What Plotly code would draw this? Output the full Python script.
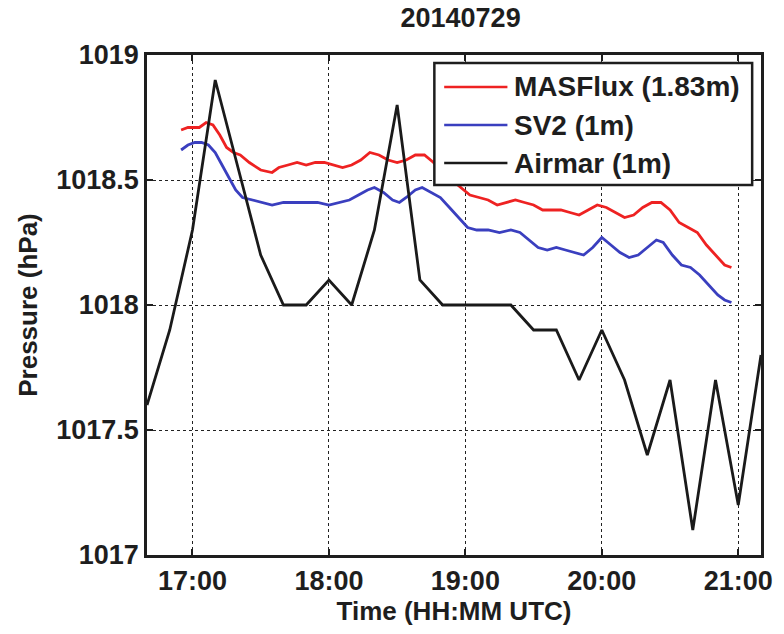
import plotly.graph_objects as go

DAY = "2014-07-29 "

# MASFlux (1.83m)
mas_time = ["16:55","16:58","17:00","17:03","17:06","17:09","17:12","17:15","17:18","17:21",
            "17:25","17:30","17:35","17:38","17:42","17:46","17:50","17:54","17:58","18:02",
            "18:06","18:10","18:14","18:18","18:22","18:26","18:30","18:34","18:38","18:42",
            "18:46","18:50","18:54","18:58","19:02","19:06","19:10","19:14","19:18","19:22",
            "19:26","19:30","19:34","19:38","19:42","19:46","19:50","19:54","19:58","20:02",
            "20:06","20:10","20:14","20:18","20:22","20:26","20:30","20:34","20:38","20:42",
            "20:46","20:50","20:54","20:57"]
mas_vals = [1018.70,1018.71,1018.71,1018.71,1018.73,1018.72,1018.68,1018.63,1018.61,1018.60,
            1018.57,1018.54,1018.53,1018.55,1018.56,1018.57,1018.56,1018.57,1018.57,1018.56,
            1018.55,1018.56,1018.58,1018.61,1018.60,1018.58,1018.57,1018.58,1018.60,1018.60,
            1018.57,1018.53,1018.50,1018.47,1018.44,1018.43,1018.42,1018.40,1018.41,1018.42,
            1018.41,1018.40,1018.38,1018.38,1018.38,1018.37,1018.36,1018.38,1018.40,1018.39,
            1018.37,1018.35,1018.36,1018.39,1018.41,1018.41,1018.38,1018.33,1018.31,1018.29,
            1018.24,1018.20,1018.16,1018.15]

# SV2 (1m)
sv2_time = ["16:55","16:58","17:01","17:04","17:07","17:10","17:13","17:16","17:19","17:22",
            "17:26","17:30","17:35","17:40","17:45","17:50","17:55","18:00","18:05","18:09",
            "18:13","18:17","18:20","18:24","18:28","18:31","18:34","18:38","18:41","18:45",
            "18:49","18:53","18:57","19:01","19:05","19:10","19:15","19:20","19:24","19:28",
            "19:32","19:36","19:40","19:44","19:48","19:52","19:56","20:00","20:04","20:08",
            "20:12","20:16","20:20","20:24","20:27","20:31","20:35","20:39","20:43","20:47",
            "20:51","20:54","20:57"]
sv2_vals = [1018.62,1018.64,1018.65,1018.65,1018.64,1018.61,1018.56,1018.51,1018.46,1018.43,
            1018.42,1018.41,1018.40,1018.41,1018.41,1018.41,1018.41,1018.40,1018.41,1018.42,
            1018.44,1018.46,1018.47,1018.45,1018.42,1018.41,1018.43,1018.46,1018.47,1018.45,
            1018.43,1018.39,1018.35,1018.31,1018.30,1018.30,1018.29,1018.30,1018.29,1018.26,
            1018.23,1018.22,1018.23,1018.22,1018.21,1018.20,1018.23,1018.27,1018.24,1018.21,
            1018.19,1018.20,1018.23,1018.26,1018.25,1018.20,1018.16,1018.15,1018.12,1018.08,
            1018.04,1018.02,1018.01]

# Airmar (1m)
air_time = ["16:40","16:50","17:00","17:10","17:20","17:30","17:40","17:50","18:00","18:10",
            "18:20","18:30","18:40","18:50","19:00","19:10","19:20","19:30","19:40","19:50",
            "20:00","20:10","20:20","20:30","20:40","20:50","21:00","21:10"]
air_vals = [1017.6,1017.9,1018.3,1018.9,1018.55,1018.2,1018.0,1018.0,1018.1,1018.0,
            1018.3,1018.8,1018.1,1018.0,1018.0,1018.0,1018.0,1017.9,1017.9,1017.7,
            1017.9,1017.7,1017.4,1017.7,1017.1,1017.7,1017.2,1017.8]

series_names = ["MASFlux (1.83m)", "SV2 (1m)", "Airmar (1m)"]
series_colors = ["#ee2222", "#3a3fbf", "#1a1a1a"]

y_ticks = [1017, 1017.5, 1018, 1018.5, 1019]
y_ticktext = ["1017", "1017.5", "1018", "1018.5", "1019"]
x_ticks = ["17:00", "18:00", "19:00", "20:00", "21:00"]

def ts(lst):
    return [DAY + t for t in lst]

FONT = "Liberation Sans, Arial, sans-serif"
INK = "#1e1e1e"

fig = go.Figure()
for tl, vl, nm, col in [(mas_time, mas_vals, series_names[0], series_colors[0]),
                        (sv2_time, sv2_vals, series_names[1], series_colors[1]),
                        (air_time, air_vals, series_names[2], series_colors[2])]:
    fig.add_trace(go.Scatter(x=ts(tl), y=vl, mode="lines", name=nm,
                             line=dict(color=col, width=2.8), showlegend=False))

# custom legend box (MATLAB style)
lx0, lx1, ly0, ly1 = 0.468, 0.9856, 0.740, 0.984
fig.add_shape(type="rect", xref="paper", yref="paper", x0=lx0, x1=lx1, y0=ly0, y1=ly1,
              line=dict(color=INK, width=2.5), fillcolor="white", layer="above")
row_y = [0.936, 0.860, 0.784]
for ry, nm, col in zip(row_y, series_names, series_colors):
    fig.add_shape(type="line", xref="paper", yref="paper", x0=0.484, x1=0.587, y0=ry, y1=ry,
                  line=dict(color=col, width=2.6), layer="above")
    fig.add_annotation(xref="paper", yref="paper", x=0.595, y=ry, text="<b>%s</b>" % nm,
                       showarrow=False, xanchor="left", yanchor="middle",
                       font=dict(family=FONT, size=28, color=INK))

axis_common = dict(showline=True, linecolor=INK, linewidth=2.5, mirror="ticks",
                   ticks="inside", ticklen=6, tickwidth=1.5, tickcolor=INK,
                   showgrid=True, gridcolor="#222222", gridwidth=1.3, griddash="dot",
                   zeroline=False,
                   tickfont=dict(family=FONT, size=27, color=INK))

fig.update_layout(
    width=784, height=634,
    margin=dict(l=147, r=13, t=55, b=79),
    paper_bgcolor="white", plot_bgcolor="white",
    title=dict(text="<b>20140729</b>", x=0.5875, xanchor="center", y=0.972, yanchor="middle",
               font=dict(family=FONT, size=27, color=INK)),
    xaxis=dict(axis_common, type="date",
               range=[DAY + "16:40", DAY + "21:10"],
               tickvals=ts(x_ticks), ticktext=["<b>%s</b>" % t for t in x_ticks],
               title=dict(text="<b>Time (HH:MM UTC)</b>", standoff=2,
                          font=dict(family=FONT, size=26, color=INK))),
    yaxis=dict(axis_common, range=[1017, 1019],
               tickvals=y_ticks, ticktext=["<b>%s</b>" % t for t in y_ticktext],
               title=dict(text="<b>Pressure (hPa)</b>", standoff=12,
                          font=dict(family=FONT, size=26, color=INK))),
)

fig.write_html("out.html")
